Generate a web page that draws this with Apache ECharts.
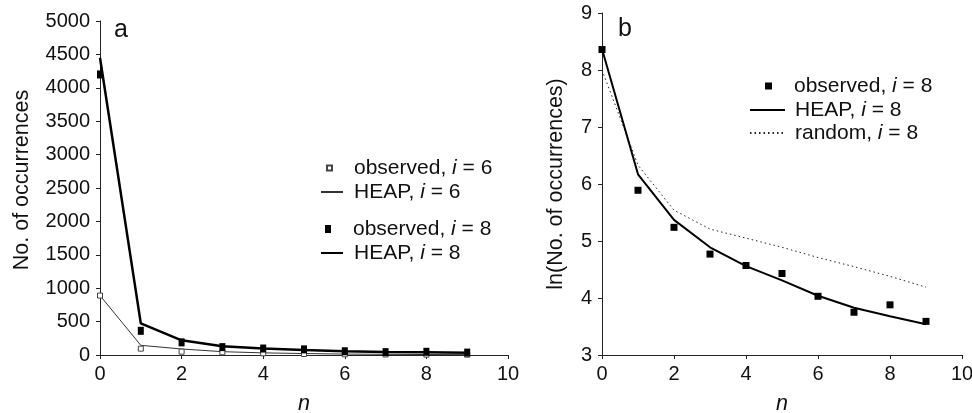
<!DOCTYPE html>
<html><head><meta charset="utf-8">
<script src="https://cdn.jsdelivr.net/npm/echarts@6/dist/echarts.min.js"></script>
<style>html,body{margin:0;padding:0;background:#fff}#c{width:972px;height:413px}</style>
</head><body><div id="c"></div>
<script>
const nValues = [0,1,2,3,4,5,6,7,8,9];
const xTicks = [0,2,4,6,8,10];
const leftYTicks = [0,500,1000,1500,2000,2500,3000,3500,4000,4500,5000];
const rightYTicks = [3,4,5,6,7,8,9];
const observed6 = [890, 95, 50, 40, 25, 15, 10, 8, 6, 5];
const heap6 = [890, 145, 90, 50, 32, 22, 14, 10, 7, 5];
const observed8 = [4200, 362, 189, 118, 97, 84, 56, 43, 48, 36];
const heap8 = [4450, 474, 220, 130, 96, 75, 57, 46, 40, 35];
const lnObserved8 = [8.36, 5.89, 5.24, 4.77, 4.57, 4.43, 4.03, 3.75, 3.88, 3.59];
const lnHeap8 = [8.37, 6.17, 5.37, 4.89, 4.56, 4.31, 4.04, 3.83, 3.68, 3.54];
const lnRandom8 = [8.0, 6.33, 5.54, 5.21, 5.05, 4.89, 4.71, 4.55, 4.38, 4.19];

const FONT = "'Liberation Sans', Arial, sans-serif";
const FS_TICK = 20;
const FS_LEG = 21;
const FS_NAME = 21.5;
const pair = arr => nValues.map((n, k) => [n, arr[k]]);
const rich = { it: { fontStyle: 'italic', fontSize: FS_LEG, lineHeight: 22, fontFamily: FONT, color: '#111' },
               sp17: { width: 17 }, sp6: { width: 6 }, sp5: { width: 5 }, sp0: { width: 0 } };
const fmt = sp => name => '{' + sp + '|}' + name.trim().replace(' i =', ' {it|i} =');

function legend(name, left, top, w, h, sp, isLine) {
  const l = { data: [name], left: left, top: top, itemWidth: w, itemHeight: h, orient: 'vertical',
    padding: 0, selectedMode: false, formatter: fmt(sp),
    textStyle: { fontFamily: FONT, fontSize: FS_LEG, lineHeight: 22, color: '#111', rich: rich } };
  if (isLine) l.itemStyle = { opacity: 0 };
  return l;
}

function xAxis(gi) {
  return { gridIndex: gi, type: 'value', min: 0, max: 10, interval: 2,
    name: 'n', nameLocation: 'middle', nameGap: 38,
    nameTextStyle: { fontFamily: FONT, fontSize: FS_NAME, fontStyle: 'italic', color: '#111' },
    axisLine: { lineStyle: { color: '#222', width: 1 } },
    axisTick: { show: true, length: 4, lineStyle: { color: '#222' } },
    axisLabel: { fontFamily: FONT, fontSize: FS_TICK, color: '#111', margin: 9,
      formatter: v => xTicks.indexOf(v) >= 0 ? String(v) : '' },
    splitLine: { show: false } };
}

const option = {
  animation: false,
  backgroundColor: '#fff',
  title: [
    { text: 'a', left: 114, top: 18, padding: 0, textStyle: { fontFamily: FONT, fontSize: 25, fontWeight: 'normal', color: '#111' } },
    { text: 'b', left: 618, top: 17, padding: 0, textStyle: { fontFamily: FONT, fontSize: 25, fontWeight: 'normal', color: '#111' } }
  ],
  grid: [
    { left: 100, top: 21, width: 408, height: 334, containLabel: false, outerBoundsMode: 'none' },
    { left: 602, top: 13, width: 360, height: 342, containLabel: false, outerBoundsMode: 'none' }
  ],
  xAxis: [xAxis(0), xAxis(1)],
  yAxis: [
    { gridIndex: 0, type: 'value', min: 0, max: 5000, interval: 500,
      name: 'No. of occurrences', nameLocation: 'middle', nameGap: 67,
      nameTextStyle: { fontFamily: FONT, fontSize: FS_NAME, color: '#111', padding: [0, 0, 0, 16] },
      axisLine: { show: true, lineStyle: { color: '#222' } },
      axisTick: { show: true, length: 4, lineStyle: { color: '#222' } },
      axisLabel: { fontFamily: FONT, fontSize: FS_TICK, color: '#111', margin: 10,
        formatter: v => leftYTicks.indexOf(v) >= 0 ? String(v) : '' },
      splitLine: { show: false } },
    { gridIndex: 1, type: 'value', min: 3, max: 9, interval: 1,
      name: 'ln(No. of occurrences)', nameLocation: 'middle', nameGap: 35,
      nameTextStyle: { fontFamily: FONT, fontSize: FS_NAME, color: '#111' },
      axisLine: { show: true, lineStyle: { color: '#222' } },
      axisTick: { show: true, length: 4, lineStyle: { color: '#222' } },
      axisLabel: { fontFamily: FONT, fontSize: FS_TICK, color: '#111', margin: 10,
        formatter: v => rightYTicks.indexOf(v) >= 0 ? String(v) : '' },
      splitLine: { show: false } }
  ],
  legend: [
    legend('observed, i = 6', 326, 157, 5, 5, 'sp17', false),
    legend('HEAP, i = 6', 320, 181, 22, 10, 'sp6', true),
    legend('observed, i = 8', 325, 218, 6, 8, 'sp17', false),
    legend('HEAP, i = 8', 320, 242, 22, 10, 'sp6', true),
    legend('observed, i = 8 ', 765, 75, 7, 7, 'sp17', false),
    legend('HEAP, i = 8 ', 749, 99, 35, 10, 'sp5', true),
    legend('random, i = 8', 749, 122, 35, 10, 'sp5', true)
  ],
  series: [
    { name: 'HEAP, i = 6', type: 'line', xAxisIndex: 0, yAxisIndex: 0, data: pair(heap6),
      symbol: 'none', lineStyle: { color: '#333', width: 1 }, itemStyle: { color: '#333' }, z: 2 },
    { name: 'HEAP, i = 8', type: 'line', xAxisIndex: 0, yAxisIndex: 0, data: pair(heap8),
      symbol: 'none', lineStyle: { color: '#000', width: 2.5 }, itemStyle: { color: '#000' }, z: 2 },
    { name: 'observed, i = 6', type: 'scatter', xAxisIndex: 0, yAxisIndex: 0, data: pair(observed6),
      symbol: 'rect', symbolSize: 5, itemStyle: { color: '#fff', borderColor: '#444', borderWidth: 1, opacity: 1 }, z: 3 },
    { name: 'observed, i = 8', type: 'scatter', xAxisIndex: 0, yAxisIndex: 0, data: pair(observed8),
      symbol: 'rect', symbolSize: [6, 8], itemStyle: { color: '#000', opacity: 1 }, z: 4 },
    { name: 'random, i = 8', type: 'line', xAxisIndex: 1, yAxisIndex: 1, data: pair(lnRandom8),
      symbol: 'none', lineStyle: { color: '#222', width: 1, type: [1.5, 3] }, itemStyle: { color: '#222' }, z: 2 },
    { name: 'HEAP, i = 8 ', type: 'line', xAxisIndex: 1, yAxisIndex: 1, data: pair(lnHeap8),
      symbol: 'none', lineStyle: { color: '#000', width: 2 }, itemStyle: { color: '#000' }, z: 3 },
    { name: 'observed, i = 8 ', type: 'scatter', xAxisIndex: 1, yAxisIndex: 1, data: pair(lnObserved8),
      symbol: 'rect', symbolSize: 7, itemStyle: { color: '#000', opacity: 1 }, z: 4 }
  ]
};
const chart = echarts.init(document.getElementById('c'), null, { renderer: 'canvas' });
chart.setOption(option);
</script></body></html>
